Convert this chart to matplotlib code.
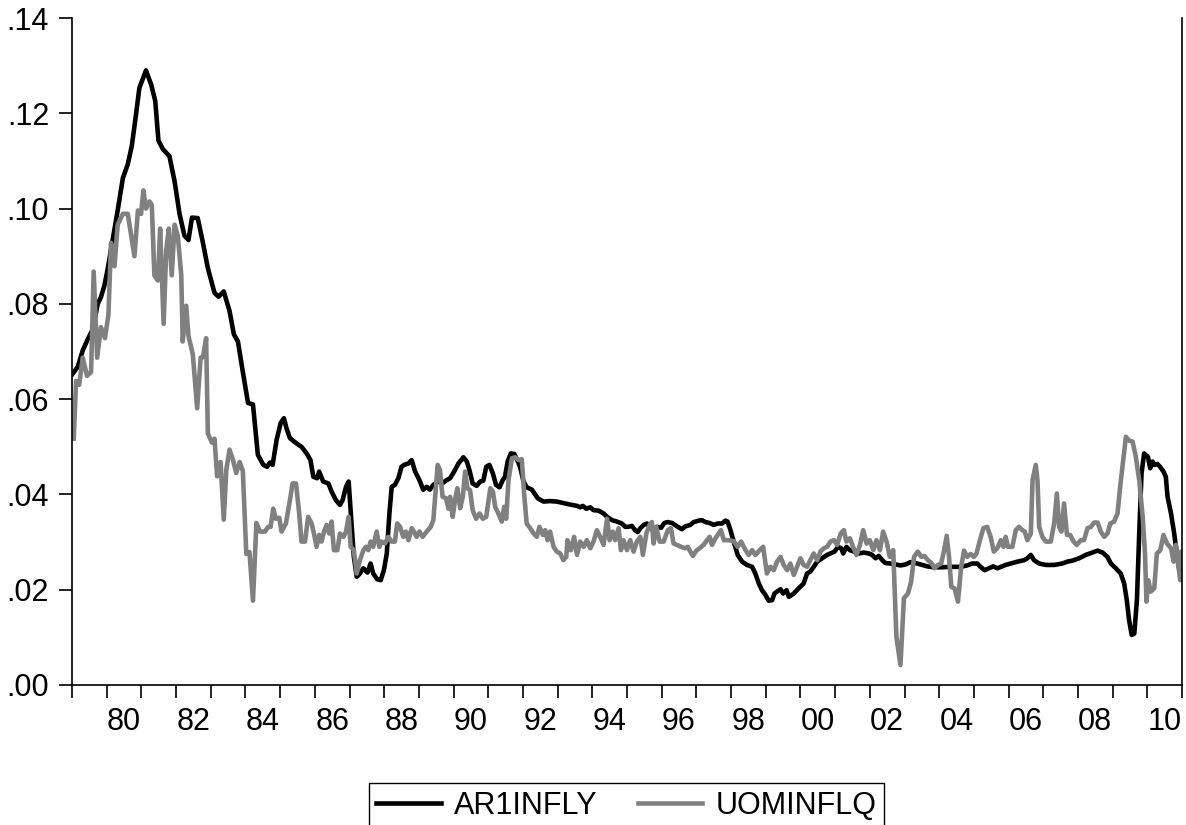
import numpy as np
import matplotlib.pyplot as plt
from matplotlib.ticker import FixedLocator, NullFormatter, FixedFormatter, FuncFormatter

plt.rcParams['font.family'] = ['Liberation Sans', 'DejaVu Sans']

# months since Jan 1979 and values
ar1_month = [0.2, 2, 3.7, 5.4, 7.2, 8.9, 10, 11.2, 12.4, 14.1, 15.8, 17.6, 19.3, 20.7, 22.2, 23.3,
             25.6, 27.4, 28.8, 29.9, 31.4, 33.7, 35.5, 37.2, 38.9, 40.3, 41.5, 43.5, 45.3, 47, 49.3,
             50.7, 52.5, 54.5, 56, 57.4, 59.1, 60.9, 62.6, 64.3, 66.2, 67.5, 68.5, 69.4, 70.8, 72.2,
             73.3, 74.2, 75.4, 77.7, 79.4, 81.2, 82.5, 83.5, 84.8, 85.5, 86.9, 88.7, 89.8, 91.3, 92.7,
             93.6, 94.8, 95.7, 96.7, 97.5, 98.5, 99.6, 100.8, 102.2, 103.3, 104.2, 105.6, 106.8, 107.9,
             108.9, 109.8, 110.6, 111.7, 112.9, 114, 114.9, 116.4, 117.5, 118.7, 120.2, 121.5, 122.7,
             123.8, 125, 126.7, 128.5, 129.6, 130.8, 132.2, 133.7, 135.4, 136.6, 137.5, 138.6, 140,
             141.2, 142.3, 143.3, 144.4, 145.6, 146.7, 147.9, 149, 149.8, 150.7, 151.8, 153, 153.9, 155,
             156.2, 157.3, 159.1, 161.1, 163.1, 165.4, 167.7, 170.6, 172.9, 174.7, 175.8, 176.7, 177.9,
             179.3, 180.4, 182.2, 183.9, 185.1, 186.8, 188.5, 190.2, 191.4, 192.5, 193.7, 194.8, 195.7,
             196.6, 197.8, 198.9, 200.6, 202.4, 203.8, 204.9, 206.1, 207.6, 209.3, 211, 212.2, 213.9,
             215.1, 216.8, 218, 219.1, 220.6, 222, 223.4, 224.9, 226, 226.8, 227.8, 228.9, 230.3, 231.8,
             233.5, 235.3, 236.4, 237.6, 238.7, 239.9, 241, 242.2, 243, 243.9, 245.1, 246, 247.2, 248,
             249.7, 251.4, 253.1, 254.3, 255.4, 256.6, 257.8, 259.5, 261.2, 263.8, 265, 266.1, 266.8,
             267.9, 269.1, 270.5, 272.2, 273.9, 275.7, 276.8, 278, 279.1, 280.3, 281.4, 283.2, 284.9,
             286.6, 288.4, 290.1, 291.8, 293.6, 295.9, 298.2, 300.5, 304, 307.4, 309.7, 311.4, 313.2,
             314.3, 315.7, 317.2, 318.7, 320.1, 323, 324.8, 327.1, 329.4, 330.5, 331.7, 332.8, 334.6,
             336.9, 339.8, 342.6, 344.4, 346.1, 348.4, 350.7, 353, 354.8, 356.5, 358.2, 359.4, 361.1,
             362.8, 364, 364.9, 365.7, 366.6, 367.5, 368.4, 369.2, 370, 370.9, 372.2, 373, 373.8, 374.6,
             375.5, 376.4, 377.6, 378.4, 379, 380.2, 381.3, 382.5, 383.1, 384]
ar1_value = [.0653, .0668, .0702, .0725, .0747, .080, .0814, .0838, .0875, .0936, .0996, .1064, .1093,
             .1132, .120, .1253, .129, .126, .1226, .1143, .1125, .111, .1057, .0989, .0943, .0934,
             .0981, .098, .0928, .0875, .0823, .0815, .0826, .0785, .0736, .0721, .0657, .0592, .0589,
             .0483, .0462, .0458, .0467, .0462, .0515, .055, .056, .0539, .0518, .0507, .050, .0486,
             .0472, .0437, .0434, .0448, .0427, .0423, .0406, .0388, .0378, .0388, .0416, .0427, .0339,
             .0269, .0227, .0234, .0245, .0236, .0255, .0234, .0222, .022, .0241, .0276, .036, .0416,
             .042, .0434, .0458, .0462, .0465, .0472, .0448, .043, .041, .0416, .041, .042, .0427, .0425,
             .043, .0434, .0448, .0465, .0478, .0469, .0451, .0423, .0418, .0427, .0429, .0458, .0462,
             .0444, .042, .0415, .043, .0437, .0469, .0486, .0485, .0474, .0458, .0427, .0415, .041,
             .0392, .0385, .0386, .0385, .0381, .0378, .0376, .0373, .0376, .037, .0373, .0367, .0366,
             .036, .0353, .0346, .0343, .0339, .0332, .0332, .0334, .0325, .0321, .0329, .0336, .0339,
             .0327, .0332, .033, .034, .0342, .034, .0333, .0327, .0333, .0336, .0342, .0345, .0346,
             .0342, .034, .0336, .0339, .0339, .0345, .0343, .0325, .0301, .0273, .0259, .0252, .0248,
             .0234, .0213, .0199, .0189, .0177, .0178, .0192, .0196, .0201, .0192, .0199, .0185, .0192,
             .0203, .0213, .0234, .0238, .0248, .0259, .0266, .0273, .028, .029, .0287, .0276, .029,
             .0283, .028, .0276, .0278, .0276, .0273, .0266, .0271, .0262, .0256, .0255, .0253, .0251,
             .0253, .0258, .0256, .0253, .0249, .0247, .0247, .0248, .0248, .0251, .0255, .0255, .0248,
             .0241, .0245, .0249, .0245, .0252, .0255, .0259, .0262, .0266, .0273, .0262, .0255, .0252,
             .0252, .0255, .0259, .0261, .0266, .0273, .0278, .0282, .0278, .0269, .0255, .0245, .0234,
             .0213, .0178, .0136, .0105, .0108, .0178, .0318, .0444, .0486, .0479, .0455, .0469, .0462,
             .0464, .0458, .0448, .0437, .0395, .036, .0318, .0262, .0241, .0241]

uom_month = [0.6, 1.4, 2.5, 3.7, 5.2, 6.6, 7.5, 8.7, 10, 11.4, 12.6, 13.5, 14.7, 15.8, 17.6, 19.3, 21.6,
             22.8, 23.9, 24.7, 25.6, 26.8, 27.6, 28.5, 29.7, 30.5, 31.7, 32.6, 33.5, 34.5, 35.5, 36.6,
             37.8, 38.3, 39.5, 40.3, 41.8, 43.3, 44.5, 45.3, 46.4, 47, 48.4, 49.3, 50.2, 51.4, 52.5,
             53.4, 54.5, 55.7, 56.8, 58, 59.1, 60.3, 61.4, 62.6, 63.8, 65, 66.7, 67.9, 68.7, 69.6, 70.5,
             71.7, 72.5, 74, 75.4, 76.3, 77.5, 78.6, 79.4, 80.6, 81.7, 82.9, 83.8, 84.6, 85.5, 86.3,
             87.2, 88.1, 89, 89.8, 90.6, 91.8, 92.7, 93.9, 94.8, 95.7, 96.4, 97.5, 98.5, 99.6, 100.8,
             101.7, 102.5, 103.3, 104.2, 105.4, 106.3, 107.1, 108.3, 109.4, 110.6, 111.7, 112.5, 113.5,
             114.6, 115.5, 116.4, 117.5, 118.3, 119.2, 120.2, 121.3, 122.7, 124.1, 125, 125.9, 126.5,
             127.3, 128.2, 129.4, 130.2, 130.8, 131.7, 132.5, 133.3, 134.3, 135.2, 136, 136.8, 137.7,
             138.6, 139.8, 141, 142.1, 143.3, 144.7, 145.6, 146.4, 147.5, 148.7, 149.5, 150.2, 151,
             152.2, 153.3, 154.5, 155.6, 156.4, 157.3, 158.5, 159.7, 160.8, 161.7, 162.9, 163.7, 164.5,
             165.4, 166.6, 167.7, 168.9, 170, 171, 171.4, 172.6, 173.7, 174.7, 175.8, 177, 178.1, 179.3,
             180.4, 181.6, 182.7, 183.9, 185.1, 186, 187.1, 187.9, 189.1, 189.9, 190.8, 192, 193.1,
             194.3, 195.4, 196.6, 197.5, 198.7, 199.8, 200.6, 201.2, 202.1, 203.3, 204.7, 206.1, 207.2,
             208.1, 209.3, 210.7, 212.2, 213, 213.9, 214.8, 216, 217.1, 218.5, 219.7, 220.6, 221.4,
             222.6, 223.7, 224.5, 225.5, 227.2, 228.9, 230.3, 231.5, 233, 234.1, 235.3, 236.4, 237.9,
             239.1, 240.4, 241.6, 242.8, 243.9, 245.1, 246.2, 247.4, 248.5, 249.7, 250.8, 252, 253.1,
             254.3, 255.4, 256.6, 257.8, 258.9, 260.1, 261.2, 262.4, 263.6, 264.7, 265.9, 267, 267.9,
             269.1, 270.2, 271.4, 272.6, 273.7, 274.9, 276, 277.2, 278.3, 279.5, 280.6, 281.8, 282.9,
             284.1, 285.2, 286.6, 287.8, 289.2, 290.3, 291.3, 292.6, 293.8, 294.9, 296.1, 297.3, 298.4,
             299.6, 300.7, 301.6, 302.6, 303.4, 304.2, 305.3, 306.5, 307.6, 308.6, 309.7, 310.9, 312,
             312.9, 314.1, 315.3, 316.6, 317.8, 318.9, 320.1, 321.3, 322.2, 323, 323.8, 325.3, 326.5,
             327.6, 328.8, 329.6, 330.5, 331.7, 332.3, 333.4, 334, 334.6, 335.7, 336.9, 338.6, 339.8,
             340.7, 341.5, 342.3, 343.2, 344.2, 345.3, 346.5, 347.6, 349, 350.1, 351.3, 352.5, 353.6,
             354.8, 355.9, 357.1, 358.2, 359.2, 360.5, 361.7, 362.6, 363.8, 364.6, 365.7, 366.9, 368,
             369.2, 370.4, 371.2, 371.7, 372.3, 373.2, 374.4, 375.3, 376.5, 377.6, 378.8, 380.2, 381.1,
             381.9, 382.8, 383.4, 383.7, 384]
uom_value = [.0517, .0638, .063, .0687, .0649, .0657, .0868, .0687, .0751, .0728, .0777, .0928, .0879,
             .0966, .0989, .0989, .090, .0996, .0989, .1038, .100, .1015, .1008, .086, .0849, .0958,
             .0758, .0913, .0958, .086, .0966, .0943, .086, .0721, .0796, .0732, .0694, .0581, .0687,
             .0688, .0728, .0528, .0509, .0517, .0438, .0468, .0347, .0453, .0494, .0472, .0445, .0468,
             .0449, .0275, .0279, .0177, .034, .0322, .0322, .0332, .0332, .037, .0349, .0351, .0322,
             .0339, .0388, .0423, .0423, .036, .0301, .0301, .0353, .0339, .0315, .029, .0315, .0301,
             .0322, .0336, .0318, .0343, .0283, .0283, .0318, .0311, .0322, .0353, .029, .0283, .0234,
             .0262, .0283, .029, .0283, .0301, .029, .0322, .029, .0301, .0297, .0311, .0301, .0301,
             .0339, .0332, .0311, .0322, .0304, .0329, .0322, .0311, .0322, .0311, .0322, .0332, .0346,
             .0416, .0462, .0451, .0395, .0392, .037, .0395, .0353, .0388, .0413, .0371, .0395, .0448,
             .0413, .0409, .0367, .0349, .036, .0349, .0353, .0413, .0406, .0374, .036, .0343, .0374,
             .0349, .043, .0476, .0478, .0472, .0474, .0402, .0339, .0329, .0318, .0311, .0332, .0315,
             .0325, .0304, .0322, .029, .028, .0276, .0262, .0269, .0304, .0283, .0311, .0273, .0301,
             .029, .0304, .0287, .0301, .0325, .0311, .0294, .0349, .0304, .0322, .0304, .0329, .0283,
             .0304, .0283, .0304, .028, .0301, .0311, .0273, .0318, .0336, .0342, .0297, .0332, .0301,
             .0301, .0325, .0329, .0297, .0294, .029, .0287, .029, .028, .0271, .0282, .0287, .0294,
             .0304, .0311, .0294, .0308, .0318, .0325, .0304, .0304, .0302, .029, .0301, .0283, .0273,
             .0283, .0273, .0283, .029, .0234, .0248, .0241, .0259, .0269, .0252, .0241, .0255, .0231,
             .0248, .0266, .0252, .0248, .0262, .0276, .0262, .028, .0287, .029, .0301, .0304, .0294,
             .0318, .0325, .0301, .0308, .029, .0273, .0294, .0325, .0297, .0304, .0283, .0304, .0283,
             .0322, .0301, .0269, .0283, .0101, .0042, .0182, .0192, .0217, .0269, .028, .0269, .0271,
             .0262, .0256, .0245, .0252, .0255, .028, .0313, .0269, .0206, .0203, .0175, .0248, .0282,
             .0269, .0275, .0269, .0276, .0304, .0329, .0332, .0311, .028, .0287, .0304, .029, .0311,
             .029, .029, .0325, .0332, .0325, .0322, .0304, .0318, .043, .0462, .043, .0332, .0311,
             .0301, .0301, .034, .0402, .0332, .0322, .0381, .0315, .0315, .0301, .0294, .0304, .0304,
             .0329, .0332, .0341, .0341, .0322, .0311, .0318, .0339, .0343, .036, .0416, .048, .0521,
             .0513, .0511, .048, .043, .0353, .0276, .0175, .022, .0196, .0203, .0276, .0283, .0315,
             .0297, .0287, .0259, .0294, .0248, .022, .028, .025]

series_names = ['AR1INFLY', 'UOMINFLQ']
year_labels = ['80', '82', '84', '86', '88', '90', '92', '94', '96', '98',
               '00', '02', '04', '06', '08', '10']

fig = plt.figure(figsize=(11.86, 8.25), dpi=100)
ax = fig.add_axes([72 / 1186, 140 / 825, 1110 / 1186, 667 / 825])

x1 = 1979 + np.array(ar1_month) / 12
x2 = 1979 + np.array(uom_month) / 12
l1, = ax.plot(x1, ar1_value, color='black', lw=3.3)
l2, = ax.plot(x2, uom_value, color='#808080', lw=3.3)

ax.set_xlim(1979, 2011)
ax.set_ylim(0, 0.14)
ax.spines['top'].set_visible(False)
for s in ['left', 'bottom', 'right']:
    ax.spines[s].set_linewidth(1.2)

ax.set_yticks(np.arange(0, 0.141, 0.02))
ax.yaxis.set_major_formatter(FuncFormatter(lambda v, p: ('%.2f' % v)[1:]))
ax.tick_params(axis='y', direction='out', length=9.5, width=1.2, pad=7, labelsize=22)

ax.xaxis.set_major_locator(FixedLocator(range(1979, 2012)))
ax.xaxis.set_major_formatter(NullFormatter())
ax.xaxis.set_minor_locator(FixedLocator([y + 0.5 for y in range(1980, 2011, 2)]))
ax.xaxis.set_minor_formatter(FixedFormatter(year_labels))
ax.tick_params(axis='x', which='major', direction='out', length=9, width=1.2)
ax.tick_params(axis='x', which='minor', length=0, pad=16, labelsize=22)

fig.legend([l1, l2], series_names, loc='upper center', bbox_to_anchor=(626.5 / 1186, 42 / 825),
           ncol=2, fontsize=22, frameon=True, fancybox=False, edgecolor='black', framealpha=1,
           handlelength=2.1, handletextpad=0.45, columnspacing=1.3, borderpad=0.25, borderaxespad=0)

fig.savefig('out.png', dpi=100)
